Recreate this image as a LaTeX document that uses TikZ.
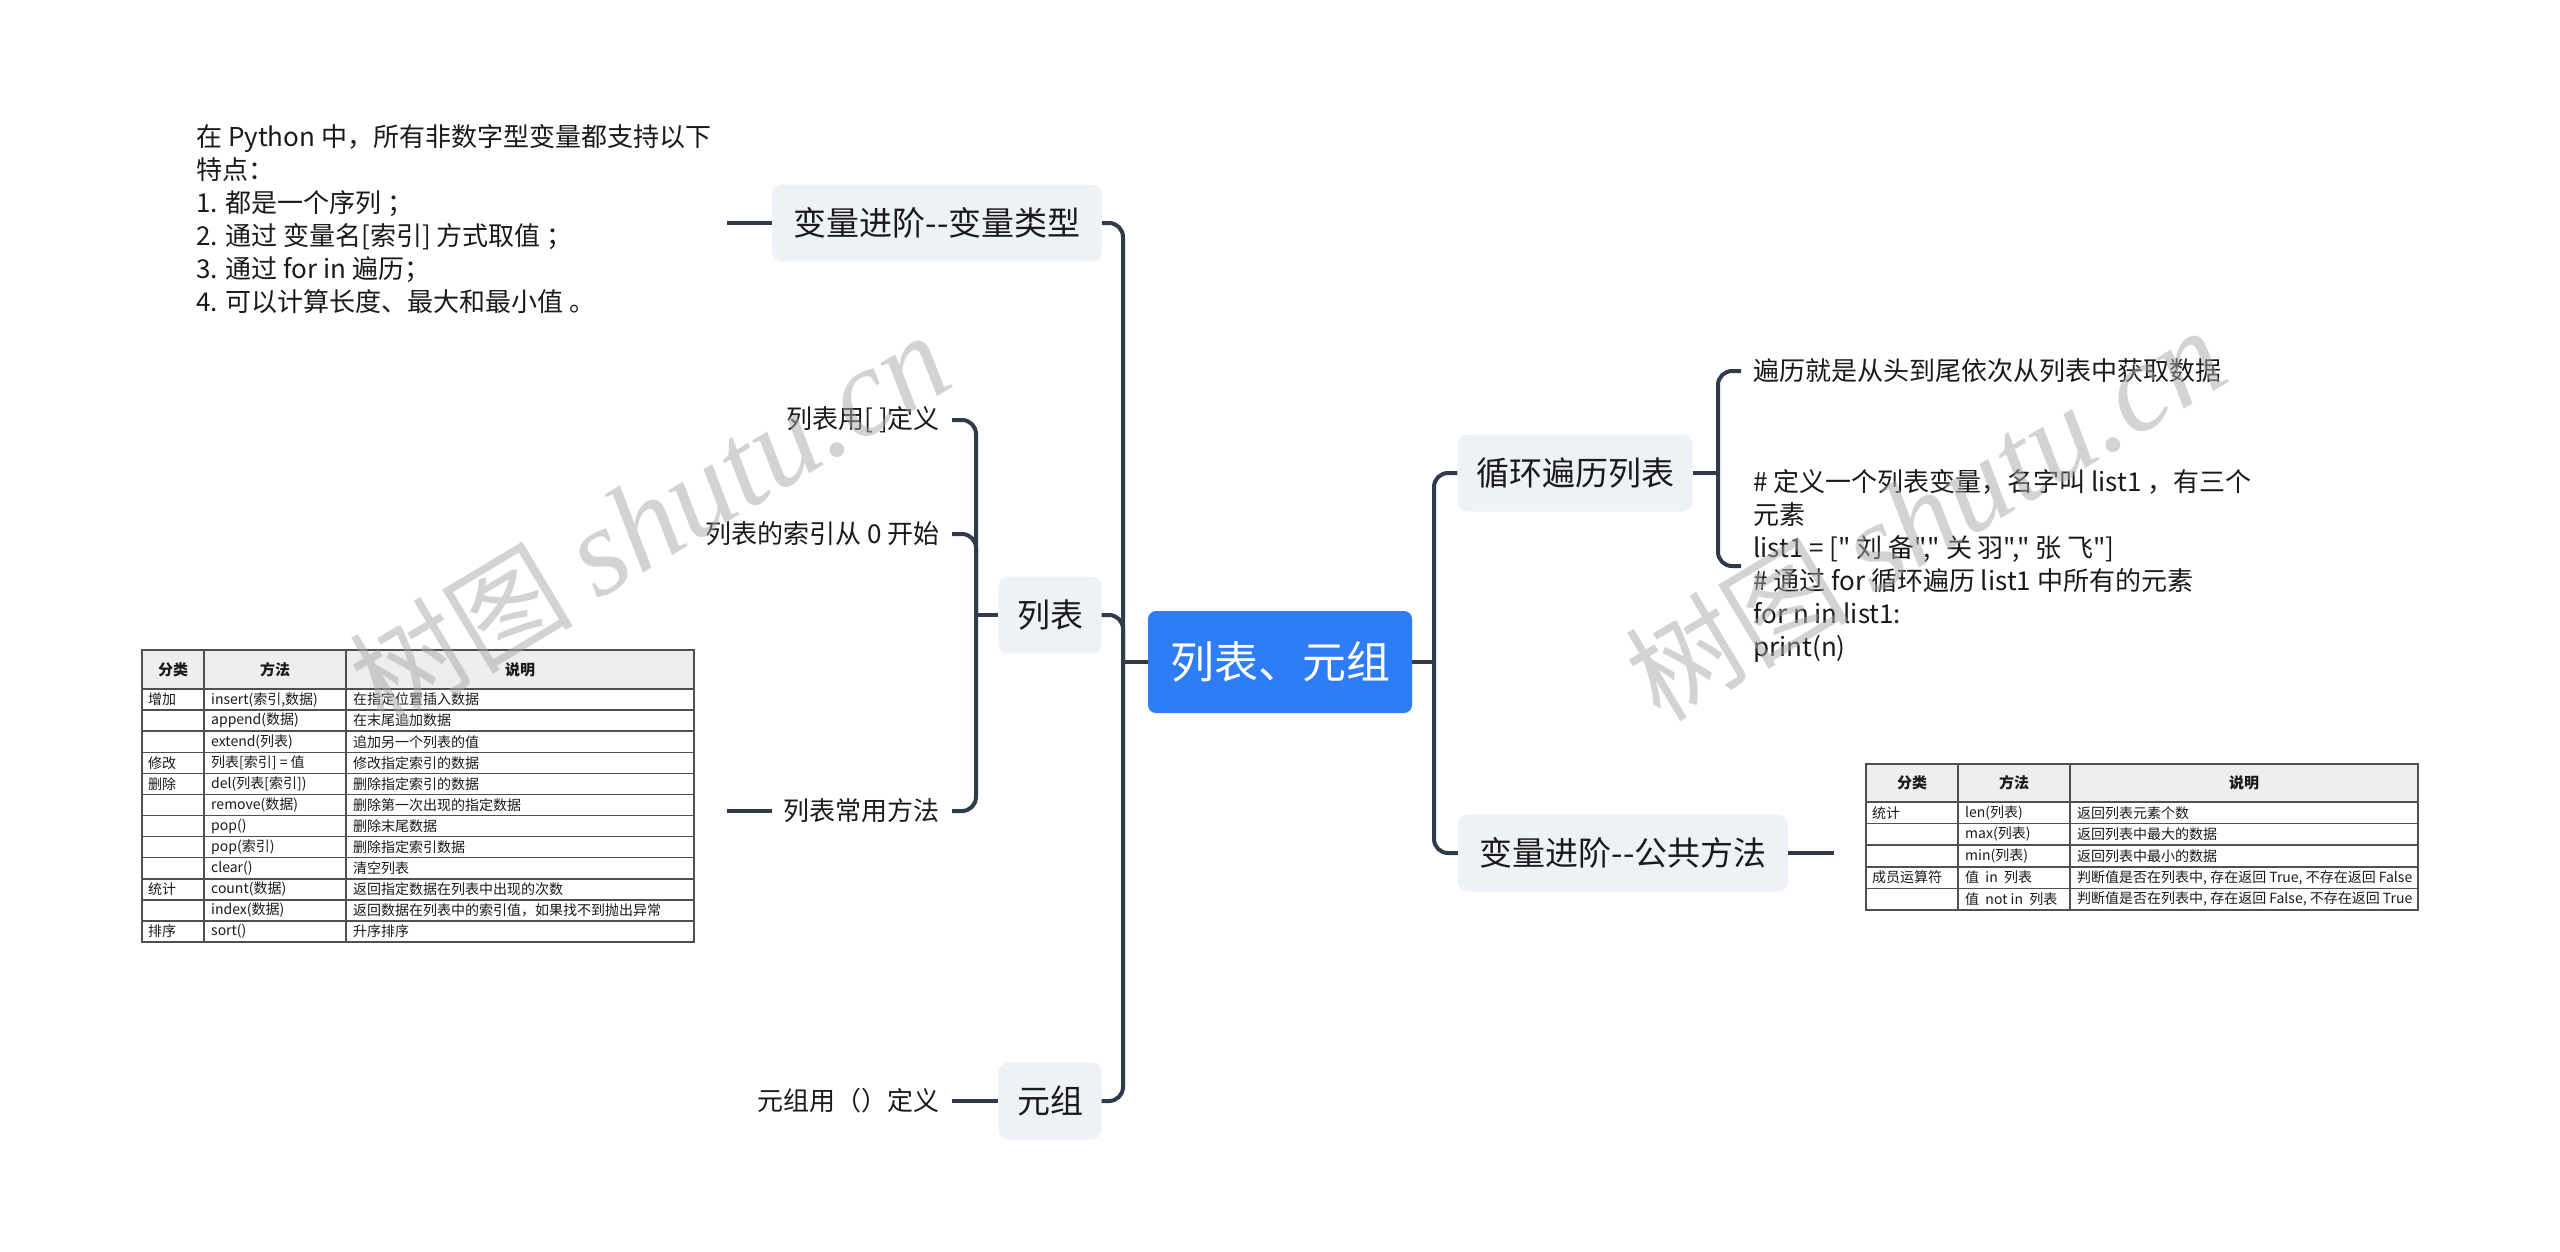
\documentclass[tikz,border=0pt]{standalone}
\usepackage{fontspec}
\setmainfont{Noto Sans CJK SC}
\newfontfamily\plainfont{Noto Sans CJK SC}
\newfontfamily\wmfont{Liberation Serif}
\usetikzlibrary{calc}
\definecolor{connc}{HTML}{2F3A4A}
\definecolor{nodefill}{HTML}{EEF1F5}
\definecolor{rootblue}{HTML}{2F7DF6}
\definecolor{txt}{HTML}{1A1A1A}
\definecolor{tline}{HTML}{505050}
\definecolor{thead}{HTML}{EEEEEE}
\definecolor{wmc}{HTML}{A8A8A8}
\newcommand\fsz[2]{\plainfont\fontsize{#1}{#2}\selectfont}
\begin{document}
\begin{tikzpicture}[x=1pt,y=-1pt,
  conn/.style={draw=connc,line width=4pt},
  rc/.style={rounded corners=14pt},
  rootnode/.style={fill=rootblue,rounded corners=8pt,minimum width=264pt,minimum height=102pt,text=white,font=\fsz{44pt}{50pt}},
  branch/.style={fill=nodefill,rounded corners=10pt,minimum height=77pt,text=txt,font=\fsz{33pt}{40pt},inner xsep=0pt},
  leaf/.style={text=txt,font=\fsz{26pt}{33pt},inner xsep=12pt,inner ysep=2pt},
  tcell/.style={text=txt,font=\fsz{14pt}{16pt},inner sep=0pt,anchor=west},
  thd/.style={text=txt,font=\fsz{15pt}{16pt}\bfseries,inner sep=0pt},
  tl/.style={draw=tline,line width=1.5pt},
  wmtext/.style={text=wmc,text opacity=0.5,inner sep=0pt},
]
\useasboundingbox (0,0) rectangle (2560,1251);
\fill[white] (0,0) rectangle (2560,1251);

% ---------- main nodes ----------
\node[rootnode] (root) at (1280,662) {列表、元组};
\node[branch,minimum width=330pt] (t1) at (937,223) {变量进阶--变量类型};
\node[branch,minimum width=103pt] (list) at (1050,615) {列表};
\node[branch,minimum width=103pt] (tuple) at (1050,1101) {元组};
\node[branch,minimum width=235pt] (loop) at (1575,473) {循环遍历列表};
\node[branch,minimum width=330pt] (pub) at (1623,853) {变量进阶--公共方法};

% ---------- leaves ----------
\node[leaf,anchor=east] (l1) at (952,420) {列表用[ ]定义};
\node[leaf,anchor=east] (l2) at (952,534) {列表的索引从 0 开始};
\node[leaf,anchor=east] (l3) at (952,811) {列表常用方法};
\node[leaf,anchor=east] (tl1) at (952,1101) {元组用（）定义};

\node[leaf,anchor=north west,align=left,inner sep=0pt] (note) at (196,124)
 {在 Python 中，所有非数字型变量都支持以下\\
  特点：\\
  1. 都是一个序列 ；\\
  2. 通过 变量名[索引] 方式取值 ；\\
  3. 通过 for in 遍历；\\
  4. 可以计算长度、最大和最小值 。};

\node[leaf,anchor=west] (r1) at (1741,371) {遍历就是从头到尾依次从列表中获取数据};
\node[leaf,anchor=west,align=left] (r2) at (1741,566)
 {\# 定义一个列表变量，名字叫 list1 ，有三个\\
  元素\\
  list1 = [" 刘 备"," 关 羽"," 张 飞"]\\
  \# 通过 for 循环遍历 list1 中所有的元素\\
  for n in list1:\\
  print(n)};

% ---------- connectors ----------
\coordinate (lt) at (1123,662);
\coordinate (rt) at (1434,662);
\coordinate (lc) at (976,615);
\coordinate (rc) at (1718,473);
\coordinate (tlend) at (727,223);
\coordinate (tblend) at (727,811);
\coordinate (pubend) at (1834,853);

\draw[conn] (root.west) -- (lt);
\draw[conn,rc] (t1.east) -| (lt) |- (tuple.east);
\draw[conn,rc] (list.east) -| (lt);
\draw[conn] (root.east) -- (rt);
\draw[conn,rc] (loop.west) -| (rt) |- (pub.west);

\draw[conn,rc] (l1.east) -| (lc) |- (l3.east);
\draw[conn,rc] (l2.east) -| (lc);
\draw[conn] (list.west) -- (lc);
\draw[conn] (tuple.west) -- (tl1.east);

\draw[conn,rc] (r1.west) -| (rc) |- (r2.west);
\draw[conn] (loop.east) -- (rc);

\draw[conn] (t1.west) -- (tlend);
\draw[conn] (l3.west) -- (tblend);
\draw[conn] (pub.east) -- (pubend);

% ---------- left table ----------
\fill[white] (142,650) rectangle (694,942);
\fill[thead] (142,650) rectangle (694,689);
\foreach \i in {0,...,12} \draw[tl] (142,{689+21.083*\i}) -- (694,{689+21.083*\i});
\draw[tl] (142,650) rectangle (694,942);
\draw[tl] (204,650) -- (204,942);
\draw[tl] (346,650) -- (346,942);
\node[thd] at (173,669.5) {分类};
\node[thd] at (275,669.5) {方法};
\node[thd] at (520,669.5) {说明};
\newcommand\lrow[4]{%
  \node[tcell] at (148,{689+21.083*(#1-0.5)}) {#2};
  \node[tcell] at (211,{689+21.083*(#1-0.5)}) {#3};
  \node[tcell] at (353,{689+21.083*(#1-0.5)}) {#4};}
\lrow{1}{增加}{insert(索引,数据)}{在指定位置插入数据}
\lrow{2}{}{append(数据)}{在末尾追加数据}
\lrow{3}{}{extend(列表)}{追加另一个列表的值}
\lrow{4}{修改}{列表[索引] = 值}{修改指定索引的数据}
\lrow{5}{删除}{del(列表[索引])}{删除指定索引的数据}
\lrow{6}{}{remove(数据)}{删除第一次出现的指定数据}
\lrow{7}{}{pop()}{删除末尾数据}
\lrow{8}{}{pop(索引)}{删除指定索引数据}
\lrow{9}{}{clear()}{清空列表}
\lrow{10}{统计}{count(数据)}{返回指定数据在列表中出现的次数}
\lrow{11}{}{index(数据)}{返回数据在列表中的索引值，如果找不到抛出异常}
\lrow{12}{排序}{sort()}{升序排序}

% ---------- right table ----------
\fill[white] (1866,764) rectangle (2418,910);
\fill[thead] (1866,764) rectangle (2418,802);
\foreach \i in {0,...,5} \draw[tl] (1866,{802+21.6*\i}) -- (2418,{802+21.6*\i});
\draw[tl] (1866,764) rectangle (2418,910);
\draw[tl] (1958,764) -- (1958,910);
\draw[tl] (2070,764) -- (2070,910);
\node[thd] at (1912,783) {分类};
\node[thd] at (2014,783) {方法};
\node[thd] at (2244,783) {说明};
\newcommand\rrow[4]{%
  \node[tcell] at (1872,{802+21.6*(#1-0.5)}) {#2};
  \node[tcell] at (1965,{802+21.6*(#1-0.5)}) {#3};
  \node[tcell] at (2077,{802+21.6*(#1-0.5)}) {#4};}
\rrow{1}{统计}{len(列表)}{返回列表元素个数}
\rrow{2}{}{max(列表)}{返回列表中最大的数据}
\rrow{3}{}{min(列表)}{返回列表中最小的数据}
\rrow{4}{成员运算符}{值\ \ in\ \ 列表}{判断值是否在列表中, 存在返回 True, 不存在返回 False}
\rrow{5}{}{值\ \ not in\ \ 列表}{判断值是否在列表中, 存在返回 False, 不存在返回 True}

% ---------- watermarks (on top, translucent) ----------
\node[wmtext,rotate=31] (wm1) at (649,520) {\fsz{112pt}{120pt}树图 {\wmfont\itshape\fontsize{125pt}{130pt}\selectfont shutu.cn}};
\node[wmtext,rotate=31] (wm2) at (1925,515) {\fsz{112pt}{120pt}树图 {\wmfont\itshape\fontsize{125pt}{130pt}\selectfont shutu.cn}};
\end{tikzpicture}
\end{document}
